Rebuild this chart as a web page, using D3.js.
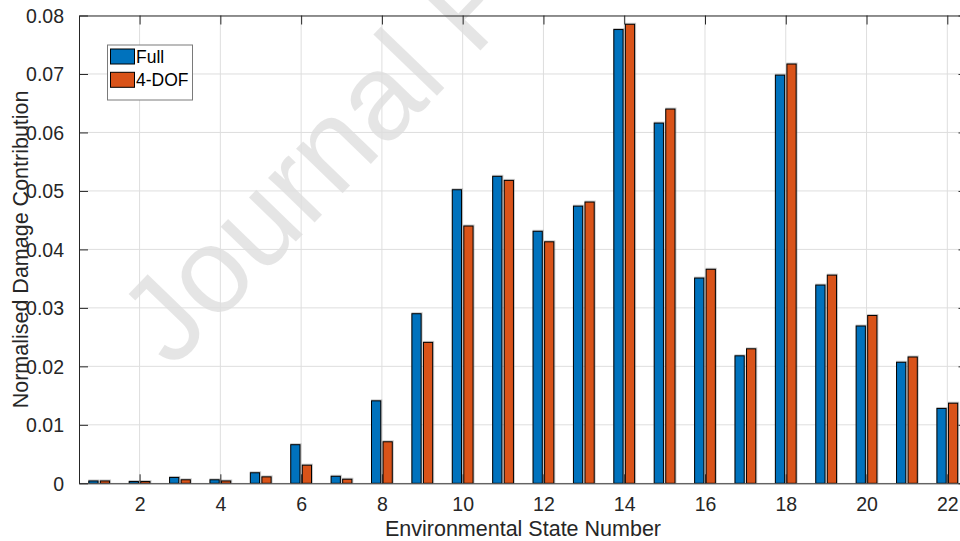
<!DOCTYPE html>
<html>
<head>
<meta charset="utf-8">
<script src="https://cdn.jsdelivr.net/npm/d3@7"></script>
<style>
  html, body { margin: 0; padding: 0; background: #fff; }
  svg { display: block; }
  text { font-family: "Liberation Sans", Arial, Helvetica, sans-serif; }
</style>
</head>
<body>
<svg id="chart" width="960" height="541"></svg>
<script>
// Environmental states 1..22
const states = d3.range(1, 23);
// Normalised damage contribution per state
const fullModel = [0.0004, 0.0003, 0.0010, 0.0006, 0.0018, 0.0066, 0.0012, 0.0141, 0.0290, 0.0502, 0.0525,
                   0.0431, 0.0474, 0.0776, 0.0616, 0.0351, 0.0218, 0.0698, 0.0339, 0.0269, 0.0207, 0.0128];
const dof4Model = [0.0004, 0.0003, 0.0006, 0.0004, 0.0011, 0.0031, 0.0007, 0.0071, 0.0241, 0.0440, 0.0518,
                   0.0413, 0.0481, 0.0785, 0.0640, 0.0366, 0.0230, 0.0717, 0.0356, 0.0287, 0.0216, 0.0137];
const seriesNames = ["Full", "4-DOF"];
const seriesColors = ["#0072BD", "#D95319"];
const xTicks = [2, 4, 6, 8, 10, 12, 14, 16, 18, 20, 22];
const yTicks = [0, 0.01, 0.02, 0.03, 0.04, 0.05, 0.06, 0.07, 0.08];

const svg = d3.select("#chart");
const ink = "#262626";
const gridColor = "#dedede";

const plot = { left: 79, top: 15.5, right: 967.5, bottom: 483.3 };

const x = d3.scaleLinear().domain([0.5, 22.5]).range([plot.left, plot.right]);
const y = d3.scaleLinear().domain([0, 0.08]).range([plot.bottom, plot.top]);

svg.append("defs").append("clipPath").attr("id", "plotClip")
  .append("rect").attr("x", plot.left).attr("y", plot.top)
  .attr("width", plot.right - plot.left).attr("height", plot.bottom - plot.top);

// watermark, faint, behind the grid
svg.append("text")
  .attr("transform", "translate(172,370) rotate(-46)")
  .attr("font-size", 122)
  .attr("fill", "#000")
  .attr("fill-opacity", 0.1)
  .text("Journal Pre-proof");

// grid
const grid = svg.append("g").attr("clip-path", "url(#plotClip)");
grid.selectAll("line.gx").data(xTicks).join("line")
  .attr("x1", d => x(d)).attr("x2", d => x(d))
  .attr("y1", plot.top).attr("y2", plot.bottom)
  .attr("stroke", gridColor).attr("stroke-width", 1);
grid.selectAll("line.gy").data(yTicks).join("line")
  .attr("x1", plot.left).attr("x2", plot.right)
  .attr("y1", d => y(d)).attr("y2", d => y(d))
  .attr("stroke", gridColor).attr("stroke-width", 1);

// grouped bars
const groupWidth = 2 / 3.5;
const barW = 0.8 * groupWidth / 2;
const offsets = [-groupWidth / 4, groupWidth / 4];
const series = [fullModel, dof4Model];

const bars = svg.append("g").attr("clip-path", "url(#plotClip)");
series.forEach((vals, si) => {
  const g = bars.append("g");
  const rows = states.map((s, i) => ({ s, v: vals[i] }));
  // soft halo around each bar
  g.selectAll("rect.halo").data(rows).join("rect")
    .attr("x", d => x(d.s + offsets[si] - barW / 2) - 0.5)
    .attr("y", d => y(d.v) - 1.5)
    .attr("width", x(barW) - x(0) + 2)
    .attr("height", d => y(0) - y(d.v) + 1.5)
    .attr("fill", "#8a8a8a").attr("fill-opacity", 0.45);
  g.selectAll("rect.bar").data(rows).join("rect")
    .attr("x", d => x(d.s + offsets[si] - barW / 2))
    .attr("y", d => y(d.v))
    .attr("width", x(barW) - x(0))
    .attr("height", d => y(0) - y(d.v))
    .attr("fill", seriesColors[si])
    .attr("stroke", "#000").attr("stroke-width", 1);
});

// axes
const tickLen = 9;
const axX = svg.append("g").attr("transform", `translate(0,${plot.bottom})`)
  .call(d3.axisBottom(x).tickValues(xTicks).tickSizeInner(-tickLen).tickSizeOuter(0).tickPadding(14).tickFormat(d3.format("d")));
const axXTop = svg.append("g").attr("transform", `translate(0,${plot.top})`)
  .call(d3.axisTop(x).tickValues(xTicks).tickSizeInner(-tickLen).tickSizeOuter(0).tickFormat(""));
const axY = svg.append("g").attr("transform", `translate(${plot.left},0)`)
  .call(d3.axisLeft(y).tickValues(yTicks).tickSizeInner(-tickLen).tickSizeOuter(0).tickPadding(15)
        .tickFormat(d => d === 0 ? "0" : d3.format(".2f")(d)));
const axYRight = svg.append("g").attr("transform", `translate(${plot.right},0)`)
  .call(d3.axisRight(y).tickValues(yTicks).tickSizeInner(-tickLen).tickSizeOuter(0).tickFormat(""));

[axX, axXTop, axY, axYRight].forEach(a => {
  a.selectAll("path.domain").attr("stroke", ink).attr("stroke-width", 1);
  a.selectAll(".tick line").attr("stroke", ink).attr("stroke-width", 1);
  a.selectAll(".tick text").attr("fill", ink).attr("font-size", 19.5)
    .attr("font-family", "'Liberation Sans', Arial, sans-serif");
});
axY.selectAll(".tick text").attr("dy", "0.35em");

// axis titles
svg.append("text")
  .attr("x", 523).attr("y", 536)
  .attr("text-anchor", "middle").attr("font-size", 21.5).attr("fill", ink)
  .text("Environmental State Number");
svg.append("text")
  .attr("transform", `translate(27.5,${(plot.top + plot.bottom) / 2}) rotate(-90)`)
  .attr("text-anchor", "middle").attr("font-size", 21.5).attr("fill", ink)
  .text("Normalised Damage Contribution");

// legend
const leg = svg.append("g").attr("transform", "translate(107.5,45)");
leg.append("rect").attr("width", 85).attr("height", 55)
  .attr("fill", "#fff").attr("stroke", "#7a7a7a").attr("stroke-width", 1);
seriesNames.forEach((name, i) => {
  leg.append("rect").attr("x", 3).attr("y", 4 + i * 23.3).attr("width", 24).attr("height", 15)
    .attr("fill", seriesColors[i]).attr("stroke", "#000").attr("stroke-width", 1);
  leg.append("text").attr("x", 28.5).attr("y", 17.7 + i * 23)
    .attr("font-size", 17.5).attr("fill", "#000").text(name);
});
</script>
</body>
</html>
